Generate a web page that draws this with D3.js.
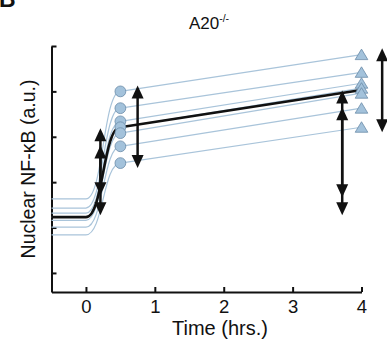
<!DOCTYPE html>
<html>
<head>
<meta charset="utf-8">
<script src="https://cdn.jsdelivr.net/npm/d3@7"></script>
<style>
  html, body { margin: 0; padding: 0; background: #fff; }
  svg { display: block; }
  text { font-family: "Liberation Sans", Arial, Helvetica, sans-serif; fill: #111; }
</style>
</head>
<body>
<svg id="chart" width="387" height="341"></svg>
<script>
// ---- data ----
const xTicks = [0, 1, 2, 3, 4];
const xTickLabels = ["0", "1", "2", "3", "4"];
const yTicks = [0, 1, 2, 3, 4, 5];
const cellBaseline = [1.63, 1.43, 1.32, 1.23, 1.16, 1.01, 0.84]; // t < 0
const cellEarly    = [4.00, 3.63, 3.34, 3.21, 3.08, 2.79, 2.42]; // t = 0.5 (circles)
const cellLate     = [4.81, 4.42, 4.18, 4.07, 3.96, 3.63, 3.21]; // t = 4 (triangles)
const meanValues   = [1.23, 3.21, 4.03];                         // baseline, 0.5 h, 4 h
const timeStart = -0.5, timeRise = 0, timeEarly = 0.5, timeLate = 4;
const arrowT    = [0.21, 0.21, 0.75, 3.72, 3.72, 4.30];
const arrowTop  = [3.19, 2.81, 4.13, 4.02, 3.65, 4.95];
const arrowBot  = [1.71, 1.27, 2.31, 1.67, 1.27, 3.10];

// ---- layout ----
const svg = d3.select("#chart");
const x = d3.scaleLinear().domain([-0.5, 4]).range([51.5, 361.5]);
const y = d3.scaleLinear().domain([-0.42, 5]).range([292, 46]);

const blueLine = "#a9c4da", blueFill = "#a3c2db", blueStroke = "#6b8ca8";

// axes
const xAxis = svg.append("g").attr("transform", "translate(0,292)")
  .call(d3.axisBottom(x).tickValues(xTicks).tickFormat((d, i) => xTickLabels[i])
    .tickSizeInner(-5).tickSizeOuter(0).tickPadding(8));
xAxis.selectAll("text").style("font-size", "18.5px").attr("fill", "#111");
const yAxis = svg.append("g").attr("transform", "translate(51.5,0)")
  .call(d3.axisRight(y).tickValues(yTicks).tickSizeInner(5).tickSizeOuter(0).tickFormat(""));
svg.selectAll(".domain, .tick line").attr("stroke", "#111").attr("stroke-width", 2);

// cell traces
const rise = d3.line().x(d => x(d[0])).y(d => y(d[1])).curve(d3.curveBumpX);
const straight = d3.line().x(d => x(d[0])).y(d => y(d[1]));
const gLines = svg.append("g");
cellBaseline.forEach((b, i) => {
  gLines.append("path")
    .attr("d", rise([[timeStart, b], [timeRise, b], [timeEarly, cellEarly[i]]]))
    .attr("fill", "none").attr("stroke", blueLine).attr("stroke-width", 1.2);
  gLines.append("path")
    .attr("d", straight([[timeEarly, cellEarly[i]], [timeLate, cellLate[i]]]))
    .attr("fill", "none").attr("stroke", blueLine).attr("stroke-width", 1.2);
});
// mean trace
svg.append("path")
  .attr("d", rise([[timeStart, meanValues[0]], [timeRise, meanValues[0]], [timeEarly, meanValues[1]]]))
  .attr("fill", "none").attr("stroke", "#111").attr("stroke-width", 2.6);
svg.append("path")
  .attr("d", straight([[timeEarly, meanValues[1]], [timeLate, meanValues[2]]]))
  .attr("fill", "none").attr("stroke", "#111").attr("stroke-width", 2.6);

// circles
svg.append("g").selectAll("circle").data(cellEarly).join("circle")
  .attr("cx", x(timeEarly)).attr("cy", d => y(d)).attr("r", 5.4)
  .attr("fill", blueFill).attr("stroke", blueStroke).attr("stroke-width", 0.8);
// triangles
svg.append("g").selectAll("path").data(cellLate).join("path")
  .attr("transform", d => `translate(${x(timeLate)},${y(d)})`)
  .attr("d", "M0,-5.5 L6.3,5 L-6.3,5 Z")
  .attr("fill", blueFill).attr("stroke", blueStroke).attr("stroke-width", 0.8);

// double arrows
const headL = 13, headW = 6;
const gArr = svg.append("g");
arrowT.forEach((t, i) => {
  const ax = x(t), yt = y(arrowTop[i]), yb = y(arrowBot[i]);
  gArr.append("line").attr("x1", ax).attr("x2", ax).attr("y1", yt + headL - 1).attr("y2", yb - headL + 1)
    .attr("stroke", "#111").attr("stroke-width", 2.5);
  gArr.append("path").attr("d", `M${ax},${yt} L${ax + headW},${yt + headL} L${ax - headW},${yt + headL} Z`).attr("fill", "#111");
  gArr.append("path").attr("d", `M${ax},${yb} L${ax + headW},${yb - headL} L${ax - headW},${yb - headL} Z`).attr("fill", "#111");
});

// texts
const title = svg.append("text").attr("x", 209).attr("y", 29).attr("text-anchor", "middle")
  .attr("font-size", 17);
title.append("tspan").text("A20");
title.append("tspan").attr("dy", -7).attr("font-size", 10.5).text("-/-");

svg.append("text").attr("x", 220).attr("y", 335).attr("text-anchor", "middle")
  .attr("font-size", 20).text("Time (hrs.)");
svg.append("text").attr("transform", "translate(35,169) rotate(-90)").attr("text-anchor", "middle")
  .attr("font-size", 19.5).text("Nuclear NF-κB (a.u.)");
svg.append("text").attr("x", -1).attr("y", 7).attr("font-size", 23).attr("font-weight", "bold").text("B");
</script>
</body>
</html>
